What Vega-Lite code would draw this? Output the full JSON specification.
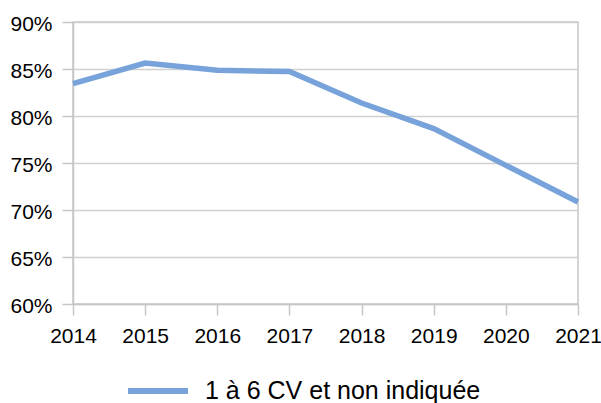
{
  "$schema": "https://vega.github.io/schema/vega-lite/v6.json",
  "width": 505,
  "height": 282,
  "autosize": {"type": "none"},
  "padding": {"left": 73, "top": 22, "right": 23, "bottom": 99},
  "background": "#ffffff",
  "config": {
    "font": "Liberation Sans",
    "view": {"stroke": "#c6c6c6", "strokeWidth": 1.5},
    "axis": {
      "labelFont": "Liberation Sans",
      "labelFontSize": 21,
      "labelColor": "#000000",
      "domainColor": "#c6c6c6",
      "domainWidth": 1.5,
      "tickColor": "#c6c6c6",
      "tickWidth": 1.5,
      "tickSize": 11,
      "gridColor": "#d0d0d0",
      "gridWidth": 1.5,
      "title": null
    }
  },
  "data": {
    "values": [
      {"year": "2014", "share": 0.8345, "series": "1 à 6 CV et non indiquée"},
      {"year": "2015", "share": 0.8564, "series": "1 à 6 CV et non indiquée"},
      {"year": "2016", "share": 0.8486, "series": "1 à 6 CV et non indiquée"},
      {"year": "2017", "share": 0.8474, "series": "1 à 6 CV et non indiquée"},
      {"year": "2018", "share": 0.8138, "series": "1 à 6 CV et non indiquée"},
      {"year": "2019", "share": 0.7866, "series": "1 à 6 CV et non indiquée"},
      {"year": "2020", "share": 0.7475, "series": "1 à 6 CV et non indiquée"},
      {"year": "2021", "share": 0.7085, "series": "1 à 6 CV et non indiquée"}
    ]
  },
  "mark": {"type": "line", "strokeWidth": 5.5, "strokeJoin": "miter"},
  "encoding": {
    "x": {
      "field": "year",
      "type": "ordinal",
      "scale": {"type": "point", "padding": 0},
      "axis": {"labelAngle": 0, "labelPadding": 10, "grid": false, "domain": true, "ticks": true, "labelBaseline": "top"}
    },
    "y": {
      "field": "share",
      "type": "quantitative",
      "scale": {"domain": [0.6, 0.9], "nice": false, "zero": false},
      "axis": {"values": [0.6, 0.65, 0.7, 0.75, 0.8, 0.85, 0.9], "format": ".0%", "labelPadding": 10, "labelOffset": 2, "grid": true}
    },
    "color": {
      "field": "series",
      "type": "nominal",
      "scale": {"range": ["#77a3da"]},
      "legend": {
        "title": null,
        "orient": "none",
        "legendX": 52,
        "legendY": 336,
        "padding": 0,
        "symbolType": "stroke",
        "symbolSize": 3600,
        "symbolStrokeWidth": 6,
        "symbolStrokeColor": "#77a3da",
        "labelFont": "Liberation Sans",
        "labelFontSize": 25,
        "labelColor": "#000000",
        "labelOffset": 14,
        "labelLimit": 400
      }
    }
  }
}
